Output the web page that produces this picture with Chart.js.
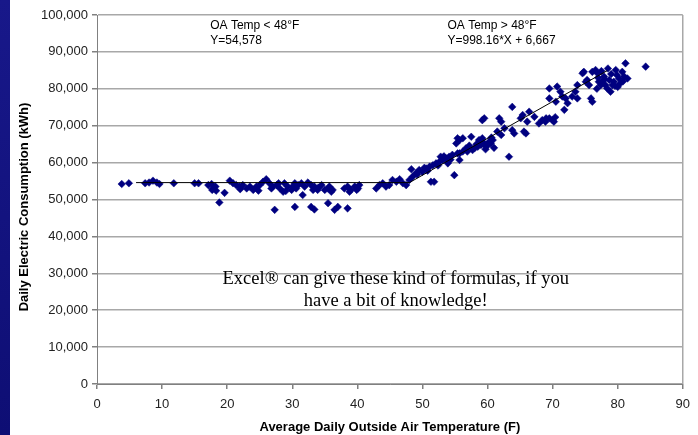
<!DOCTYPE html>
<html>
<head>
<meta charset="utf-8">
<script src="https://cdn.jsdelivr.net/npm/chart.js@4/dist/chart.umd.min.js"></script>
<style>
  html, body { margin: 0; padding: 0; background: #ffffff; overflow: hidden; }
  #wrap { position: relative; width: 698px; height: 435px; }
  #sidebar { position: absolute; left: 0; top: 0; width: 10px; height: 435px;
             background: linear-gradient(#18188a, #0e0e74); z-index: 2; }
  canvas { position: absolute; left: 0; top: 0; }
</style>
</head>
<body>
<div id="wrap">
  <div id="sidebar"></div>
  <canvas id="chart" width="698" height="435"></canvas>
</div>
<script>
// Average daily outside air temperature (°F)
const tempF = [
  3.8, 4.9, 7.4, 8.0, 8.6, 9.2, 9.6, 11.8, 15.0, 15.6,
  17.1, 17.6, 17.8, 18.3, 17.7, 19.6, 18.8, 18.2, 20.4, 20.9,
  21.4, 21.9, 22.4, 23.0, 23.5, 24.0, 24.5, 25.0, 25.5, 26.0,
  26.5, 27.0, 27.3, 27.6, 28.1, 28.6, 28.8, 29.3, 29.9, 30.4,
  30.6, 30.1, 30.4, 30.9, 31.4, 31.6, 31.9, 32.4, 32.9, 33.2,
  33.4, 33.9, 34.5, 35.0, 35.5, 35.7, 36.0, 36.2, 32.9, 33.4,
  35.5, 36.5, 37.0, 38.5, 38.0, 38.5, 39.0, 39.6, 40.1, 40.3,
  38.8, 39.9, 22.0, 24.8, 26.8, 27.9, 29.0, 34.0, 42.9, 43.4,
  43.9, 44.4, 44.9, 45.4, 46.0, 46.5, 47.0, 47.5, 48.0, 48.5,
  49.0, 49.5, 50.0, 48.3, 50.6, 51.1, 51.6, 52.1, 52.6, 53.1,
  53.6, 54.1, 54.6, 51.3, 51.8, 55.2, 55.7, 55.7, 56.2, 56.7,
  54.9, 49.2, 50.3, 50.8, 52.4, 53.3, 54.3, 52.8, 53.4, 53.9,
  55.4, 55.7, 55.4, 56.2, 56.9, 57.5, 57.7, 58.0, 58.5, 58.7,
  59.0, 59.2, 59.0, 59.5, 59.8, 60.0, 60.3, 60.5, 60.8, 59.2,
  59.5, 61.5, 61.8, 62.1, 62.1, 62.6, 63.3, 63.8, 63.8, 64.1,
  65.1, 65.4, 65.6, 65.9, 66.1, 66.4, 67.2, 67.9, 69.0, 69.5,
  70.0, 70.2, 69.5, 69.5, 70.5, 70.7, 71.2, 71.8, 72.0, 58.3,
  59.7, 60.6, 61.0, 57.2, 68.4, 68.9, 70.4, 71.5, 72.3, 73.0,
  73.5, 73.8, 73.8, 74.6, 74.8, 75.1, 75.3, 75.6, 75.9, 76.1,
  76.1, 76.6, 76.9, 77.1, 77.4, 77.6, 77.9, 78.1, 78.4, 78.7,
  78.9, 79.2, 79.4, 79.7, 79.9, 80.2, 80.4, 80.7, 81.0, 81.2,
  81.5, 84.3, 77.0, 78.0, 79.0, 80.0, 76.8, 78.5, 79.6, 77.5,
  80.8
];

// Daily electric consumption (kWh), same order as tempF
const dailyKWh = [
  54200, 54400, 54400, 54600, 55100, 54600, 54200, 54400, 54400, 54400,
  53900, 54200, 53000, 52400, 52600, 51800, 49200, 53500, 55100, 54400,
  53900, 53500, 53900, 53000, 53500, 52600, 53500, 53900, 54800, 55500,
  54400, 53500, 47200, 53900, 53000, 52100, 54400, 53500, 52600, 48000,
  53000, 53600, 54400, 53900, 54400, 51200, 53500, 54600, 53900, 52600,
  53500, 52600, 53900, 52600, 53000, 53500, 52100, 52600, 48000, 47300,
  49000, 47200, 48000, 47600, 53000, 53500, 52600, 53500, 53000, 53900,
  52100, 52600, 52800, 52400, 53000, 54400, 52300, 53200, 53000, 53900,
  54400, 53500, 53900, 55300, 54800, 55500, 54400, 53900, 55300, 56200,
  57100, 58000, 57500, 58200, 58400, 58900, 59300, 59800, 60200, 60700,
  61200, 61600, 62100, 54800, 54800, 65200, 66100, 62500, 63000, 63900,
  56600, 56800, 58600, 57800, 59200, 61700, 60800, 61600, 61200, 59800,
  62500, 60700, 66600, 66600, 63000, 67000, 63400, 63900, 64300, 66100,
  65700, 66600, 64800, 65200, 64300, 64800, 65700, 65200, 66100, 71500,
  72000, 68400, 72000, 71100, 67500, 69300, 61600, 75100, 68800, 67900,
  72000, 72900, 68400, 67900, 71100, 73800, 72400, 70600, 72000, 72000,
  71500, 71100, 77400, 80100, 76500, 80600, 79200, 74300, 77400, 65000,
  63600, 66800, 64000, 64600, 71500, 71100, 72300, 77900, 76100, 77900,
  79200, 77400, 81000, 84200, 84600, 81900, 82400, 81000, 77400, 76500,
  84600, 85100, 84200, 81900, 81000, 81900, 83300, 81000, 80100, 82400,
  79200, 81000, 81900, 85100, 83700, 82800, 81500, 84600, 83300, 86900,
  82800, 86000, 83000, 82600, 84000, 80500, 80000, 85500, 80800, 84800,
  82000
];

// Piecewise fit: flat below 48°F, linear above
const lowFitValue = 54578;
const lowFitRange = [6, 48];
const highFitSlope = 998.16;
const highFitIntercept = 6667;
const highFitRange = [48, 78.4];

// Axis ticks
const xTicks = [0, 10, 20, 30, 40, 50, 60, 70, 80, 90];
const yTicks = [0, 10000, 20000, 30000, 40000, 50000, 60000, 70000, 80000, 90000, 100000];

const points = tempF.map((t, i) => ({ x: t, y: dailyKWh[i] }));
const lowFit = lowFitRange.map(t => ({ x: t, y: lowFitValue }));
const highFit = highFitRange.map(t => ({ x: t, y: highFitSlope * t + highFitIntercept }));

const notes = {
  id: 'notes',
  afterDraw(chart) {
    const ctx = chart.ctx;
    const xs = chart.scales.x, ys = chart.scales.y;
    ctx.save();
    ctx.fillStyle = '#000';
    ctx.textBaseline = 'alphabetic';
    ctx.textAlign = 'left';
    ctx.font = '12px "Liberation Sans", Arial, sans-serif';
    const top = chart.chartArea.top;
    ctx.fillText('OA Temp < 48°F', xs.getPixelForValue(17.4), top + 14);
    ctx.fillText('Y=54,578', xs.getPixelForValue(17.4), top + 29);
    ctx.fillText('OA Temp > 48°F', xs.getPixelForValue(53.85), top + 14);
    ctx.fillText('Y=998.16*X + 6,667', xs.getPixelForValue(53.85), top + 29);

    ctx.textAlign = 'center';
    ctx.font = '18.5px "Liberation Serif", "Times New Roman", serif';
    const cx = xs.getPixelForValue(45.9);
    ctx.fillText('Excel® can give these kind of formulas, if you', cx, ys.getPixelForValue(27000));
    ctx.fillText('have a bit of knowledge!', cx, ys.getPixelForValue(21200));

    // vertical axis title
    ctx.font = 'bold 13px "Liberation Sans", Arial, sans-serif';
    ctx.translate(24, 207);
    ctx.rotate(-Math.PI / 2);
    ctx.textBaseline = 'middle';
    ctx.fillText('Daily Electric Consumption (kWh)', 0, 0);
    ctx.restore();
  }
};

Chart.defaults.font.family = '"Liberation Sans", Arial, sans-serif';
Chart.defaults.font.size = 13;
Chart.defaults.color = '#222';

new Chart(document.getElementById('chart'), {
  type: 'scatter',
  data: {
    datasets: [
      {
        data: points,
        pointStyle: 'rectRot',
        pointRadius: 3.8,
        pointHoverRadius: 3.8,
        backgroundColor: '#000080',
        borderColor: '#000080',
        borderWidth: 0.5,
        order: 2
      },
      {
        data: lowFit,
        showLine: true,
        pointRadius: 0,
        borderColor: '#000',
        borderWidth: 1,
        order: 1
      },
      {
        data: highFit,
        showLine: true,
        pointRadius: 0,
        borderColor: '#000',
        borderWidth: 1,
        order: 1
      }
    ]
  },
  options: {
    responsive: false,
    animation: false,
    devicePixelRatio: 1,
    layout: { padding: { top: 15, right: 14, left: 0, bottom: 0 } },
    plugins: { legend: { display: false }, tooltip: { enabled: false } },
    scales: {
      x: {
        type: 'linear',
        min: xTicks[0],
        max: xTicks[xTicks.length - 1],
        afterBuildTicks: s => { s.ticks = xTicks.map(v => ({ value: v })); },
        afterFit: s => { s.height = 51; },
        border: { color: '#808080', width: 1 },
        grid: {
          color: c => (c.tick && c.tick.value === 90) ? '#a8a8a8' : 'rgba(0,0,0,0)',
          lineWidth: 1.5,
          tickColor: '#808080',
          tickLength: 5,
          drawTicks: true
        },
        ticks: { padding: 8, color: '#222', maxRotation: 0 },
        title: {
          display: true,
          text: 'Average Daily Outside Air Temperature (F)',
          font: { weight: 'bold', size: 13 },
          color: '#000',
          padding: { top: 0, bottom: 0 }
        }
      },
      y: {
        type: 'linear',
        min: yTicks[0],
        max: yTicks[yTicks.length - 1],
        afterBuildTicks: s => { s.ticks = yTicks.map(v => ({ value: v })); },
        afterFit: s => { s.width = 97; },
        border: { color: '#808080', width: 1 },
        grid: {
          color: '#a8a8a8',
          lineWidth: 1.5,
          tickColor: '#808080',
          tickLength: 5
        },
        ticks: {
          padding: 4,
          color: '#222',
          callback: v => v.toLocaleString('en-US')
        }
      }
    }
  },
  plugins: [notes]
});
</script>
</body>
</html>
